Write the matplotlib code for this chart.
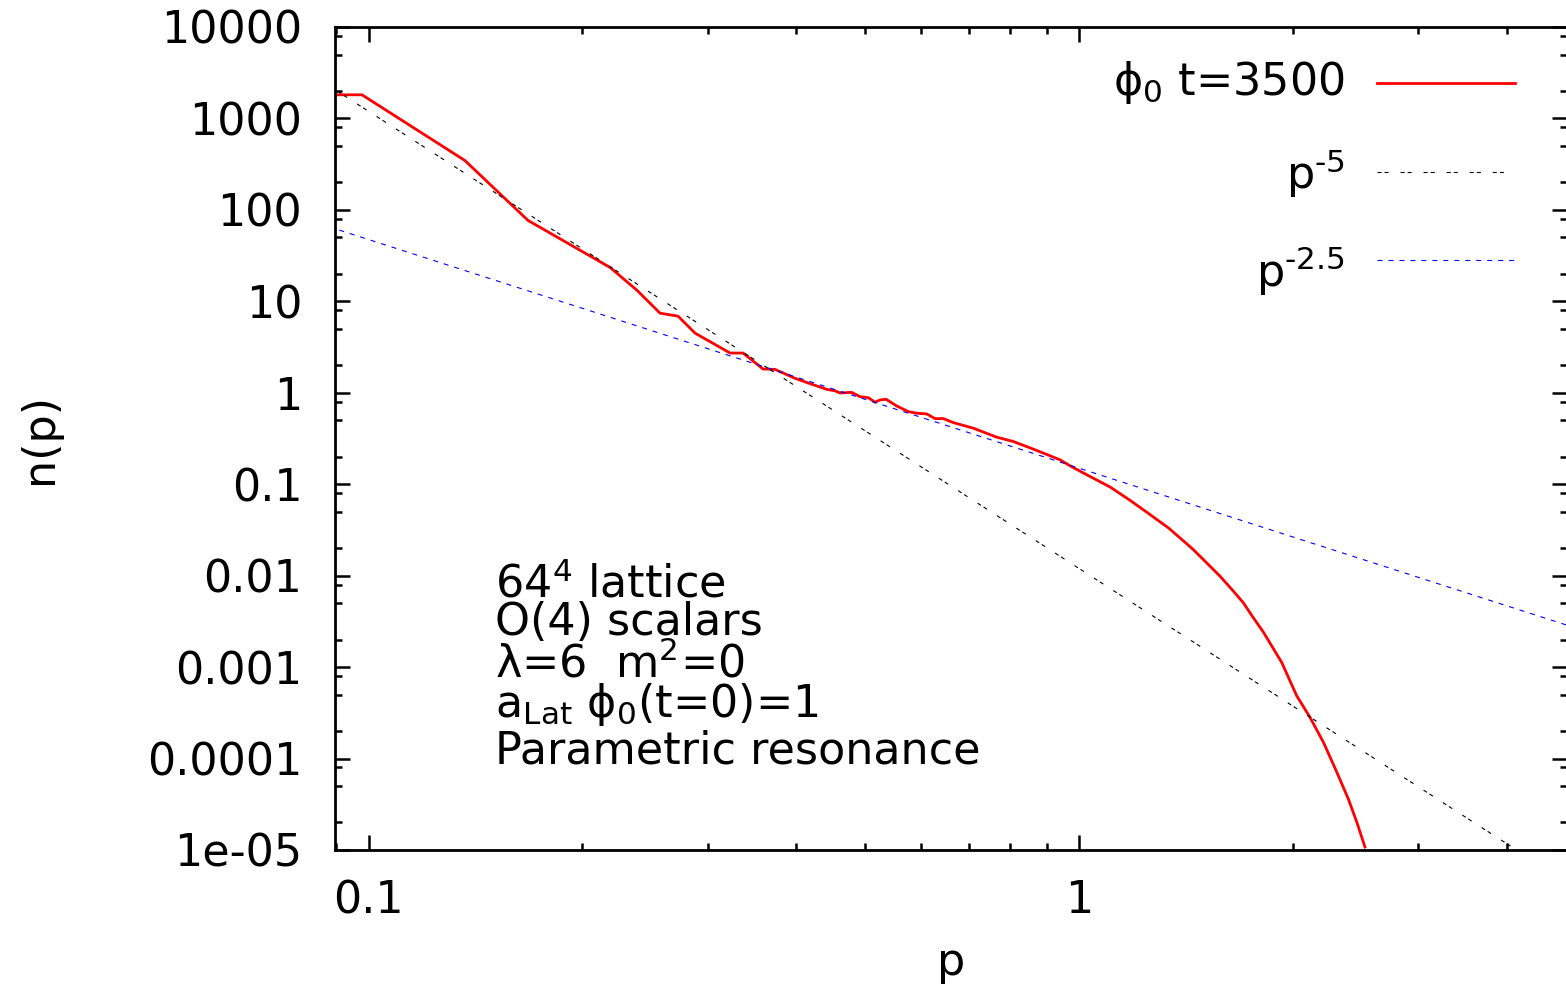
import matplotlib
matplotlib.use('Agg')
import matplotlib.pyplot as plt
from matplotlib.lines import Line2D
from matplotlib.ticker import FixedLocator, FixedFormatter, LogLocator, NullFormatter

# ── data ──
# phi_0 spectrum at t=3500
p_red = [0.0897, 0.0979, 0.1367, 0.1677, 0.2187, 0.2387, 0.2572, 0.2727, 0.2881,
         0.3227, 0.3366, 0.3591, 0.3734, 0.3983, 0.4181, 0.4415, 0.4535, 0.4609,
         0.4787, 0.4917, 0.5051, 0.5163, 0.5247, 0.5351, 0.5538, 0.5750, 0.5908,
         0.6104, 0.6271, 0.6442, 0.6653, 0.7099, 0.7659, 0.8083, 0.8624, 0.9403,
         0.9713, 1.036, 1.106, 1.180, 1.259, 1.336, 1.387, 1.448, 1.512, 1.579,
         1.641, 1.703, 1.759, 1.817, 1.877, 1.929, 2.025, 2.114, 2.208, 2.306,
         2.393, 2.460, 2.526]
n_red = [1813, 1813, 346, 76.6, 23.5, 13.2, 7.42, 6.88, 4.49,
         2.72, 2.72, 1.82, 1.80, 1.44, 1.26, 1.09, 1.05, 0.995,
         1.01, 0.907, 0.884, 0.788, 0.835, 0.849, 0.718, 0.622, 0.598,
         0.587, 0.522, 0.522, 0.472, 0.410, 0.327, 0.293, 0.242, 0.185,
         0.159, 0.1216, 0.0932, 0.0666, 0.0465, 0.0333, 0.0259, 0.0193, 0.01383, 0.00987,
         0.00707, 0.00506, 0.00347, 0.00242, 0.001595, 0.001122, 4.85e-4, 2.82e-4, 1.506e-4, 7.09e-5,
         3.63e-5, 2.02e-5, 1.078e-5]

# power law guides (straight lines in log-log, end points)
p_guide5 = [0.085, 5.0]
n_guide5 = [2700, 3.84e-6]
p_guide25 = [0.085, 5.0]
n_guide25 = [71.2, 0.00268]

y_ticks = [1e4, 1e3, 1e2, 1e1, 1, 0.1, 0.01, 0.001, 0.0001, 1e-5]
y_ticklabels = ['10000', '1000', '100', '10', '1', '0.1', '0.01', '0.001', '0.0001', '1e-05']
x_ticks = [0.1, 1]
x_ticklabels = ['0.1', '1']

legend_labels = [r'$\mathrm{\phi}_0$ t=3500', 'p$^{\u20105}$', 'p$^{\u20102.5}$']
info_lines = ['64$^4$ lattice',
              'O(4) scalars',
              '\u03bb=6  m$^2$=0',
              'a$_{\\mathrm{Lat}}$ $\\mathrm{\\phi}_0$(t=0)=1',
              'Parametric resonance']

# ── style ──
plt.rcParams['font.family'] = ['DejaVu Sans']
plt.rcParams['mathtext.fontset'] = 'dejavusans'
plt.rcParams['lines.scale_dashes'] = False
plt.rcParams['axes.unicode_minus'] = False

FS = 32
fig = plt.figure(figsize=(15.66, 9.85), dpi=100)
ax = fig.add_axes([0.21392, 0.13706, 0.78672, 0.83553])

dash_black = (2.9, 2.2, 2.9, 8.6)
dash_blue = (3.6, 4.3)

ax.plot(p_red, n_red, color='red', lw=2.0)
ax.plot(p_guide5, n_guide5, color='black', lw=0.8, dashes=dash_black)
ax.plot(p_guide25, n_guide25, color='blue', lw=0.8, dashes=dash_blue)

ax.set_xscale('log')
ax.set_yscale('log')
ax.set_xlim(0.0897, 4.862)
ax.set_ylim(1e-5, 1e4)

ax.xaxis.set_major_locator(FixedLocator(x_ticks))
ax.xaxis.set_major_formatter(FixedFormatter(x_ticklabels))
ax.xaxis.set_minor_locator(LogLocator(base=10, subs=range(2, 10), numticks=50))
ax.xaxis.set_minor_formatter(NullFormatter())
ax.yaxis.set_major_locator(FixedLocator(y_ticks))
ax.yaxis.set_major_formatter(FixedFormatter(y_ticklabels))
ax.yaxis.set_minor_locator(LogLocator(base=10, subs=(2, 5, 8), numticks=50))
ax.yaxis.set_minor_formatter(NullFormatter())

for s in ax.spines.values():
    s.set_linewidth(2.0)
ax.tick_params(which='both', direction='in', top=True, right=True, width=1.8)
ax.tick_params(which='major', length=10.8)
ax.tick_params(which='minor', length=5)
ax.tick_params(axis='y', which='major', pad=23.5, labelsize=FS)
ax.tick_params(axis='x', which='major', pad=21, labelsize=FS)

ax.set_xlabel('p', fontsize=FS)
ax.set_ylabel('n(p)', fontsize=FS)
ax.xaxis.set_label_coords(0.5, -0.111)
ax.yaxis.set_label_coords(-0.222, 0.5)

# legend drawn by hand: text right aligned, sample line to the right
leg_styles = [dict(color='red', lw=2.0),
              dict(color='black', lw=0.8, dashes=dash_black),
              dict(color='blue', lw=0.8, dashes=dash_blue)]
leg_text_y = [0.9174, 0.8031, 0.6840]
leg_line_y = [0.9320, 0.8238, 0.7169]
for lab, st, ty, ly in zip(legend_labels, leg_styles, leg_text_y, leg_line_y):
    ax.text(0.8198, ty, lab, transform=ax.transAxes, ha='right', va='baseline', fontsize=FS)
    ax.add_line(Line2D([0.8458, 0.9578], [ly, ly], transform=ax.transAxes, **st))

info_y = [0.3074, 0.2612, 0.2102, 0.1616, 0.1057]
for line, y in zip(info_lines, info_y):
    ax.text(0.1299, y, line, transform=ax.transAxes, ha='left', va='baseline', fontsize=FS)

fig.savefig('out.png', dpi=100)
